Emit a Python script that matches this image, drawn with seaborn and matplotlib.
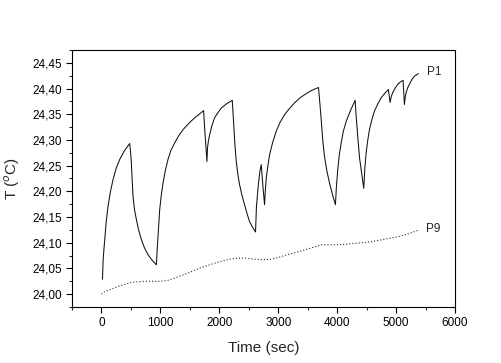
import pandas as pd
import matplotlib
matplotlib.use("Agg")
import matplotlib.pyplot as plt
import seaborn as sns
from matplotlib.ticker import MultipleLocator

# ============================================================
# Data
# ============================================================

p1_time = [17, 30, 56, 80, 112, 150, 197, 250, 310, 390, 480,
           495, 508, 520, 536, 560, 593, 630, 678, 730, 790, 860, 932,
           945, 960, 975, 988, 1015, 1045, 1085, 1129, 1180, 1242, 1310,
           1384, 1480, 1581, 1660, 1734,
           1750, 1770, 1790,
           1800, 1815, 1836, 1875, 1920, 1975, 2034, 2120, 2220,
           2248, 2265, 2288, 2315, 2344, 2385, 2429, 2470, 2514, 2565, 2615,
           2630, 2660, 2690, 2712,
           2740, 2768,
           2780, 2797, 2825, 2853, 2905, 2966, 3030, 3107, 3190, 3276,
           3360, 3446, 3560, 3683,
           3700, 3729, 3755, 3785, 3825, 3870, 3920, 3971,
           3985, 4010, 4035, 4068, 4105, 4153, 4225, 4305,
           4320, 4349, 4380, 4407, 4430, 4451,
           4470, 4492, 4520, 4548, 4590, 4632, 4690, 4746, 4810, 4869,
           4898,
           4920, 4943, 4985, 5027, 5075, 5119,
           5141,
           5155, 5170, 5195, 5225, 5265, 5310, 5378]
p1_temp = [24.029, 24.070, 24.106, 24.140, 24.171, 24.198, 24.223, 24.245,
           24.262, 24.279, 24.293,
           24.275, 24.255, 24.225, 24.190, 24.165, 24.145, 24.125, 24.106,
           24.090, 24.077, 24.066, 24.057,
           24.085, 24.112, 24.140, 24.164, 24.192, 24.216, 24.241, 24.262,
           24.280, 24.294, 24.308, 24.320, 24.332, 24.343, 24.350, 24.357,
           24.325, 24.290, 24.258,
           24.285, 24.298, 24.310, 24.328, 24.343, 24.353, 24.362, 24.370,
           24.377,
           24.323, 24.290, 24.258, 24.233, 24.213, 24.192, 24.174, 24.157,
           24.141, 24.130, 24.121,
           24.170, 24.210, 24.240, 24.252,
           24.210, 24.174,
           24.200, 24.226, 24.250, 24.271, 24.295, 24.317, 24.334, 24.349,
           24.361, 24.372, 24.381, 24.388, 24.396, 24.402,
           24.380, 24.340, 24.300, 24.268, 24.240, 24.216, 24.194, 24.174,
           24.205, 24.242, 24.270, 24.294, 24.317, 24.336, 24.357, 24.377,
           24.350, 24.307, 24.265, 24.242, 24.222, 24.206,
           24.245, 24.275, 24.300, 24.320, 24.340, 24.356, 24.370, 24.382,
           24.391, 24.398,
           24.373,
           24.385, 24.392, 24.401, 24.408, 24.413, 24.416,
           24.369,
           24.383, 24.392, 24.401, 24.408, 24.417, 24.424, 24.429]

p9_time = [0, 56, 170, 282, 400, 508, 620, 734, 880, 1017, 1130, 1242,
           1350, 1468, 1610, 1751, 1890, 2034, 2175, 2316, 2460, 2598,
           2740, 2881, 3020, 3163, 3300, 3446, 3590, 3729, 3870, 4011,
           4150, 4294, 4430, 4576, 4720, 4858, 5000, 5141, 5250, 5366]
p9_temp = [24.000, 24.005, 24.010, 24.015, 24.019, 24.023, 24.024, 24.025,
           24.025, 24.025, 24.027, 24.031, 24.036, 24.041, 24.048, 24.054,
           24.059, 24.064, 24.068, 24.070, 24.070, 24.068, 24.067, 24.068,
           24.072, 24.077, 24.081, 24.086, 24.091, 24.096, 24.096, 24.096,
           24.097, 24.099, 24.100, 24.102, 24.105, 24.108, 24.111, 24.115,
           24.119, 24.124]

y_ticks = [24.00, 24.05, 24.10, 24.15, 24.20, 24.25, 24.30, 24.35, 24.40, 24.45]
y_tick_labels = ["24,00", "24,05", "24,10", "24,15", "24,20",
                 "24,25", "24,30", "24,35", "24,40", "24,45"]
x_ticks = [0, 1000, 2000, 3000, 4000, 5000, 6000]

df_p1 = pd.DataFrame({"Time": p1_time, "T": p1_temp})
df_p9 = pd.DataFrame({"Time": p9_time, "T": p9_temp})

# ============================================================
# Plot
# ============================================================

sns.set_style("ticks")
plt.rcParams["font.family"] = ["Liberation Sans", "DejaVu Sans"]

fig = plt.figure(figsize=(5.02, 3.63), dpi=100)
ax = fig.add_axes([0.1434, 0.1543, 0.7630, 0.7080])

sns.lineplot(data=df_p1, x="Time", y="T", sort=False, ax=ax,
             color="#111111", linewidth=0.75)
sns.lineplot(data=df_p9, x="Time", y="T", sort=False, ax=ax,
             color="#111111", linewidth=0.75, linestyle=(0, (1, 2)))

ax.text(p1_time[-1] + 140, p1_temp[-1] + 0.003, "P1",
        fontsize=8.5, va="center", ha="left")
ax.text(p9_time[-1] + 140, p9_temp[-1] + 0.002, "P9",
        fontsize=8.5, va="center", ha="left")

ax.set_xlim(-500, 6000)
ax.set_ylim(23.975, 24.475)
ax.set_xticks(x_ticks)
ax.set_xticklabels([str(v) for v in x_ticks])
ax.set_yticks(y_ticks)
ax.set_yticklabels(y_tick_labels)
ax.xaxis.set_minor_locator(MultipleLocator(500))
ax.yaxis.set_minor_locator(MultipleLocator(0.025))

ax.tick_params(which="major", direction="out", length=4, width=0.8,
               labelsize=8.5, colors="black")
ax.tick_params(which="minor", direction="out", length=2, width=0.8)

for spine in ax.spines.values():
    spine.set_visible(True)
    spine.set_linewidth(0.8)
    spine.set_color("black")

ax.set_xlabel("Time (sec)", fontsize=11, labelpad=8)
ax.set_ylabel("T ($^{o}$C)", fontsize=11, labelpad=7)

fig.savefig("out.png", dpi=100)
plt.close(fig)
